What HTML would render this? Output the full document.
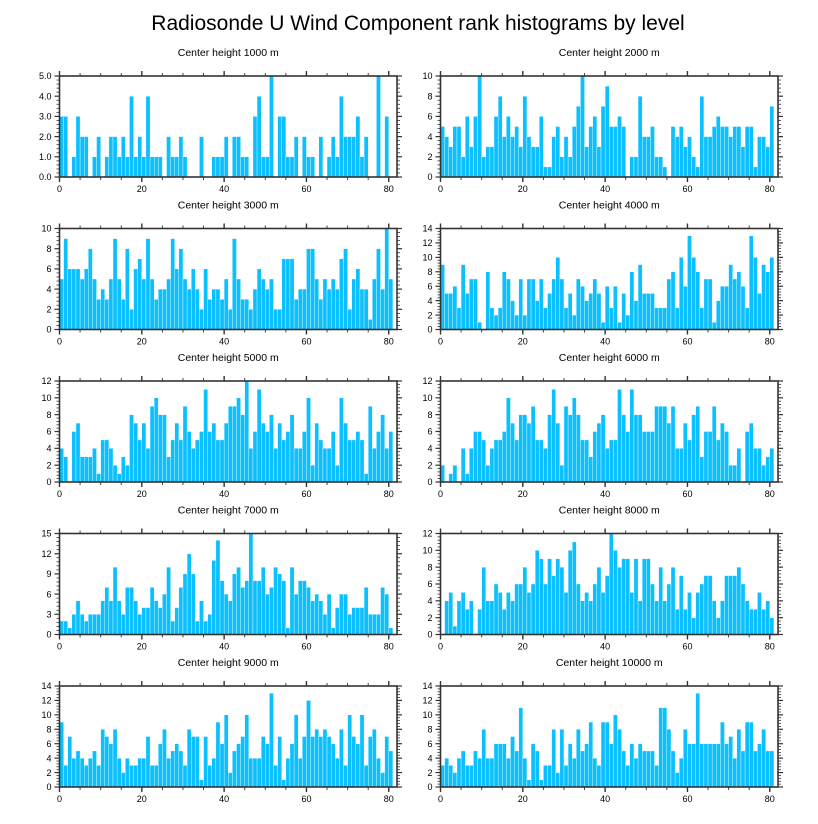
<!DOCTYPE html>
<html><head><meta charset="utf-8"><style>
body{margin:0;background:#fff;}
svg{display:block;font-family:"Liberation Sans",sans-serif;}
</style></head><body>
<svg id="chart" width="818" height="824" viewBox="0 0 818 824" xmlns="http://www.w3.org/2000/svg">
<text x="418" y="30" text-anchor="middle" font-size="21">Radiosonde U Wind Component rank histograms by level</text>
</svg>
<script>
const levels = [1000,2000,3000,4000,5000,6000,7000,8000,9000,10000];
const yMaxes = [5,10,10,14,12,12,15,12,14,14];
const yStepList = [1,2,2,2,2,2,3,2,2,2];
const xTicks = [0,20,40,60,80];
const counts1000 = [3,3,0,1,3,2,2,0,1,2,0,1,2,2,1,2,1,4,1,2,1,4,1,1,1,0,2,1,1,2,1,0,0,0,2,0,0,1,1,1,2,0,2,2,1,1,0,3,4,1,1,5,0,3,3,1,1,2,0,2,1,1,0,2,0,1,2,1,4,2,2,2,3,1,2,0,0,5,0,3,0];
const counts2000 = [5,4,3,5,5,2,6,3,6,10,2,3,3,6,8,4,6,4,5,3,8,4,3,3,6,1,1,4,5,2,4,2,5,7,10,3,5,6,3,7,9,5,5,6,5,0,2,2,8,4,4,5,2,2,1,0,5,4,5,3,4,2,1,8,4,4,5,6,5,5,4,5,5,3,5,5,1,4,4,3,7];
const counts3000 = [5,9,6,6,6,5,6,8,5,3,4,3,5,9,5,3,8,2,6,7,5,9,5,3,4,4,5,9,6,8,5,4,6,4,2,6,3,4,4,3,5,2,9,5,3,3,2,4,6,5,4,5,2,2,7,7,7,3,4,4,8,8,5,3,5,4,5,4,7,8,2,5,6,4,4,1,5,8,4,10,5];
const counts4000 = [9,5,5,6,3,9,5,7,7,1,0,8,3,2,3,8,7,4,2,7,2,7,7,4,7,3,5,7,10,7,3,5,2,7,6,4,5,7,5,1,6,3,6,1,5,2,8,4,9,5,5,5,3,3,3,7,8,3,10,6,13,10,8,3,7,7,1,4,6,6,9,7,8,6,3,13,10,5,9,8,10];
const counts5000 = [4,3,0,6,7,3,3,3,4,1,5,5,4,2,1,3,2,8,7,5,7,4,9,10,8,8,3,5,7,5,9,6,4,5,6,11,6,7,5,5,7,9,9,10,8,12,4,6,11,7,6,8,4,7,5,6,8,4,4,6,10,2,7,5,4,4,6,2,10,7,5,5,6,5,1,9,4,6,8,4,6];
const counts6000 = [2,0,1,2,0,4,1,4,6,6,5,2,4,5,5,6,10,7,5,8,8,7,9,5,5,4,8,11,7,2,9,8,10,8,5,5,3,6,7,8,4,5,5,11,8,6,11,8,8,6,6,6,9,9,9,7,9,4,4,7,5,8,9,3,6,6,9,5,7,6,2,2,4,0,6,7,4,4,2,3,4];
const counts7000 = [2,2,1,3,5,3,2,3,3,3,5,7,5,10,5,3,7,7,5,3,4,4,7,5,4,6,10,2,4,7,9,12,9,2,5,2,3,11,14,8,6,5,9,10,7,8,15,8,8,10,6,7,10,9,8,1,10,6,8,8,7,5,6,5,3,6,1,4,6,6,3,4,4,4,7,3,3,3,7,6,1];
const counts8000 = [0,4,5,1,4,5,3,4,0,3,8,4,4,6,5,3,5,4,6,6,8,5,6,10,9,6,9,7,9,8,5,10,11,6,4,5,4,6,8,5,7,12,10,8,9,9,5,9,4,9,9,6,4,8,4,6,8,3,7,3,5,2,5,6,7,7,4,2,4,7,7,7,8,6,4,3,3,5,3,4,2];
const counts9000 = [9,3,7,4,5,4,3,4,5,3,8,7,6,8,4,2,4,3,3,4,4,7,3,3,6,8,4,5,6,5,3,8,7,7,1,7,3,4,9,6,10,2,5,6,7,10,4,4,4,7,6,13,3,7,1,4,6,10,4,7,12,7,8,7,8,7,6,4,8,3,10,7,6,10,3,7,8,4,2,7,5];
const counts10000 = [3,4,3,2,4,5,3,3,5,4,8,4,4,6,6,6,4,7,5,11,4,1,6,5,1,3,3,8,2,8,3,6,4,8,5,6,9,4,3,9,9,6,10,8,5,3,6,4,6,5,5,5,3,11,11,8,5,2,4,8,6,6,13,6,6,6,6,6,9,6,7,4,8,5,9,9,5,6,8,5,5];
const allCounts = [counts1000,counts2000,counts3000,counts4000,counts5000,counts6000,counts7000,counts8000,counts9000,counts10000];

const NS = "http://www.w3.org/2000/svg";
const svg = document.getElementById('chart');
const XMAX = 82;
const colX = [59.5, 440.5];
const rowY = [76, 228.5, 381, 533.5, 686];
const PW = 337.5, PH = 101;

function mk(tag, attrs, parent){
  const e = document.createElementNS(NS, tag);
  for (const k in attrs) e.setAttribute(k, attrs[k]);
  (parent||svg).appendChild(e);
  return e;
}

allCounts.forEach((counts, p) => {
  const col = p % 2, row = Math.floor(p/2);
  const x0 = colX[col], y0 = rowY[row];
  const ymax = yMaxes[p], ystep = yStepList[p];
  const xs = v => x0 + v / XMAX * PW;
  const ys = v => y0 + PH - v / ymax * PH;
  const g = mk('g', {});
  
  

  const t = mk('text', {x: x0 + PW/2, y: y0 - 20, 'text-anchor':'middle', 'font-size':'10.5'}, g);
  t.textContent = 'Center height ' + levels[p] + ' m';
  
  

  counts.forEach((c, i) => {
    if (c <= 0) return;
    const r = mk('rect', {x: xs(i), y: ys(c), width: xs(i+1)-xs(i), height: ys(0)-ys(c), fill:'#0cc0ff', stroke:'#ffffff', 'stroke-width':'0.35'}, g);
    
    
  });

  const fr = mk('rect', {x:x0, y:y0, width:PW, height:PH, fill:'none', stroke:'#333', 'stroke-width':'1.6'}, g);
  
  

  for (let v = 0; v <= XMAX; v += 5) {
    const major = v % 20 === 0;
    const L = major ? 5 : 3;
    mk('line', {x1:xs(v), x2:xs(v), y1:y0+PH, y2:y0+PH+L, stroke:'#333', 'stroke-width': major?1.4:0.9}, g);
    mk('line', {x1:xs(v), x2:xs(v), y1:y0, y2:y0-L, stroke:'#333', 'stroke-width': major?1.4:0.9}, g);
  }
  xTicks.forEach(v => {
    const tl = mk('text', {x: xs(v), y: y0+PH+15, 'text-anchor':'middle', 'font-size':'9'}, g);
    tl.textContent = v;
    
    
  });
  const minor = ystep / 5;
  for (let k = 0; k <= Math.round(ymax/minor); k++) {
    const v = k*minor;
    const major = k % 5 === 0;
    const L = major ? 5 : 3;
    mk('line', {x1:x0, x2:x0-L, y1:ys(v), y2:ys(v), stroke:'#333', 'stroke-width': major?1.2:0.8}, g);
    mk('line', {x1:x0+PW, x2:x0+PW+L, y1:ys(v), y2:ys(v), stroke:'#333', 'stroke-width': major?1.2:0.8}, g);
  }
  for (let v = 0; v <= ymax + 1e-9; v += ystep) {
    const yl = mk('text', {x: x0-8, y: ys(v)+3.2, 'text-anchor':'end', 'font-size':'9'}, g);
    yl.textContent = ymax === 5 ? v.toFixed(1) : v;
    
    
  }
});
</script>
</body></html>
